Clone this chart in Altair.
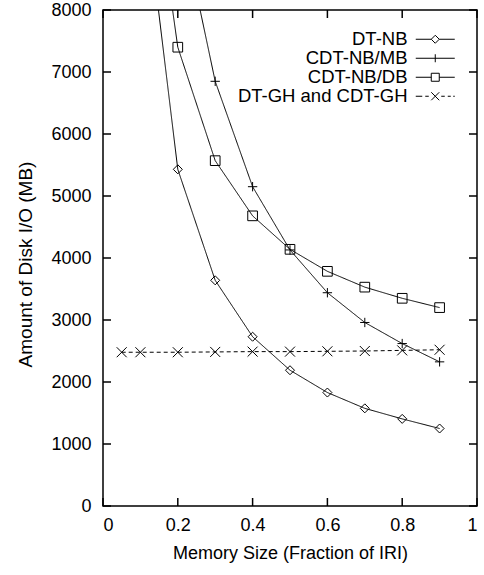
import altair as alt
import pandas as pd

# ---- data ----
series_names = ["DT-NB", "CDT-NB/MB", "CDT-NB/DB", "DT-GH and CDT-GH"]

x_dtnb = [0.1, 0.2, 0.3, 0.4, 0.5, 0.6, 0.7, 0.8, 0.9]
y_dtnb = [10400, 5430, 3640, 2730, 2190, 1830, 1575, 1405, 1250]

x_mb = [0.2, 0.3, 0.4, 0.5, 0.6, 0.7, 0.8, 0.9]
y_mb = [9700, 6850, 5150, 4130, 3440, 2960, 2620, 2325]

x_db = [0.1, 0.2, 0.3, 0.4, 0.5, 0.6, 0.7, 0.8, 0.9]
y_db = [11700, 7400, 5570, 4680, 4140, 3785, 3530, 3350, 3200]

x_gh = [0.05, 0.1, 0.2, 0.3, 0.4, 0.5, 0.6, 0.7, 0.8, 0.9]
y_gh = [2480, 2480, 2480, 2485, 2490, 2490, 2495, 2500, 2510, 2520]

x_ticks = [0, 0.2, 0.4, 0.6, 0.8, 1]
y_ticks = [0, 1000, 2000, 3000, 4000, 5000, 6000, 7000, 8000]

rows = []
for name, xs, ys in [
    (series_names[0], x_dtnb, y_dtnb),
    (series_names[1], x_mb, y_mb),
    (series_names[2], x_db, y_db),
    (series_names[3], x_gh, y_gh),
]:
    for xv, yv in zip(xs, ys):
        rows.append({"series": name, "legend": name, "x": xv, "y": yv})
df = pd.DataFrame(rows)
df_xt = pd.DataFrame({"x": x_ticks})
df_yt = pd.DataFrame({"y": y_ticks})

W, H = 374, 496
TL = 8  # inward tick length (px)
FONT = "Liberation Sans"

# marker shapes on the curves
marker_shapes = ["diamond", "M-1,0H1M0,-1V1", "square", "M-1,-1L1,1M-1,1L1,-1"]
marker_sizes = [81, 100, 90, 81]

# legend samples: line + marker (units of 5 px)
legend_paths = [
    "M-3.9,0H-0.8M0.8,0H3.9M0,-0.8L0.8,0L0,0.8L-0.8,0Z",
    "M-3.9,0H3.9M0,-0.8V0.8",
    "M-3.9,0H-0.8M0.8,0H3.9M-0.8,-0.8H0.8V0.8H-0.8Z",
    "M-3.9,0H-2.6M-2.0,0H-1.3M-0.8,-0.8L0.8,0.8M-0.8,0.8L0.8,-0.8M1.2,0H1.9M2.5,0H3.1M3.6,0H3.9",
]

x_scale = alt.Scale(domain=[0, 1], nice=False, zero=False)
y_scale = alt.Scale(domain=[0, 8000], nice=False)

x_axis = alt.Axis(
    values=x_ticks, format="~g", title="Memory Size (Fraction of IRI)",
    grid=False, ticks=False, labelPadding=10, titlePadding=10,
)
y_axis = alt.Axis(
    values=y_ticks, format="d", title="Amount of Disk I/O (MB)",
    grid=False, ticks=False, labelPadding=12, titlePadding=15,
    titleFontSize=19, titleY=254,
)
x_main = alt.X("x:Q", scale=x_scale, axis=x_axis)
y_main = alt.Y("y:Q", scale=y_scale, axis=y_axis)

# inward tick marks on all four sides of the frame (drawn from the tick lists)
tick_style = dict(color="black", strokeWidth=1.5)
ticks_left = alt.Chart(df_yt).mark_rule(**tick_style).encode(
    y=y_main, x=alt.value(0), x2=alt.value(TL))
ticks_right = alt.Chart(df_yt).mark_rule(**tick_style).encode(
    y=y_main, x=alt.value(W - TL), x2=alt.value(W))
ticks_bottom = alt.Chart(df_xt).mark_rule(**tick_style).encode(
    x=x_main, y=alt.value(H - TL), y2=alt.value(H))
ticks_top = alt.Chart(df_xt).mark_rule(**tick_style).encode(
    x=x_main, y=alt.value(0), y2=alt.value(TL))

base = alt.Chart(df)

lines = base.mark_line(color="black", strokeWidth=1, clip=True).encode(
    x=x_main,
    y=y_main,
    strokeDash=alt.StrokeDash(
        "series:N",
        scale=alt.Scale(domain=series_names, range=[[1, 0], [1, 0], [1, 0], [4, 3]]),
        legend=None,
    ),
)

points = base.mark_point(filled=False, color="black", strokeWidth=1, opacity=1, clip=True).encode(
    x=x_main,
    y=y_main,
    shape=alt.Shape("series:N", scale=alt.Scale(domain=series_names, range=marker_shapes), legend=None),
    size=alt.Size("series:N", scale=alt.Scale(domain=series_names, range=marker_sizes), legend=None),
)

legend_layer = base.mark_point(filled=False, color="black", opacity=0, size=100, clip=True).encode(
    x=x_main,
    y=y_main,
    shape=alt.Shape(
        "legend:N",
        scale=alt.Scale(domain=series_names, range=legend_paths),
        legend=alt.Legend(
            title=None,
            orient="none",
            legendX=323,
            legendY=20,
            padding=0,
            symbolSize=100,
            symbolStrokeWidth=1,
            symbolStrokeColor="black",
            symbolFillColor="transparent",
            symbolOpacity=1,
            labelAlign="right",
            labelOffset={"expr": "-37"},
            labelFont=FONT,
            labelFontSize=18.5,
            labelColor="black",
            labelLimit=400,
            rowPadding={"expr": "-2.2"},
        ),
    ),
)

chart = (
    alt.layer(ticks_left, ticks_right, ticks_bottom, ticks_top, lines, points, legend_layer)
    .resolve_scale(shape="independent")
    .properties(
        width=W,
        height=H,
        autosize=alt.AutoSizeParams(type="none"),
        padding={"left": 103, "top": 10, "right": 7, "bottom": 69},
        background="white",
    )
    .configure_view(stroke="black", strokeWidth=1.5)
    .configure_axis(
        domain=False,
        labelFont=FONT,
        labelFontSize=18,
        labelColor="black",
        titleFont=FONT,
        titleFontSize=18,
        titleFontWeight="normal",
        titleColor="black",
    )
)

chart.save("out.html", embed_options={"renderer": "svg", "actions": False})
